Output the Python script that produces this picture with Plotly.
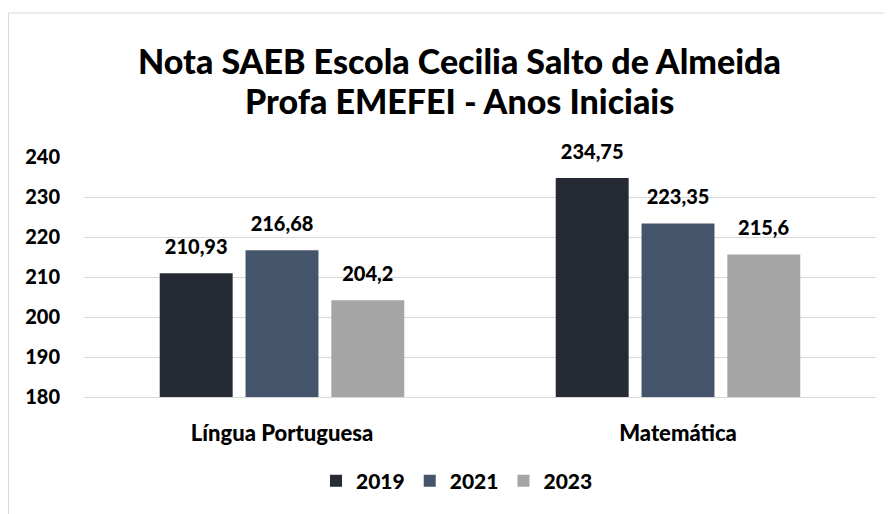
import plotly.graph_objects as go

categories = ["Língua Portuguesa", "Matemática"]
years = ["2019", "2021", "2023"]
values_2019 = [210.93, 234.75]
values_2021 = [216.68, 223.35]
values_2023 = [204.2, 215.6]
y_ticks = [180, 190, 200, 210, 220, 230, 240]

colors = ["#252a35", "#44546a", "#a5a5a5"]
FONT = "Lato"
WT = 900

fig = go.Figure()
for name, vals, col in zip(years, [values_2019, values_2021, values_2023], colors):
    fig.add_trace(go.Bar(
        name=name, x=categories, y=vals,
        marker=dict(color=col, line=dict(width=0)),
        text=["<span style='font-size:20px'>" + f"{v:g}".replace(".", ",") + "</span><br> " for v in vals],
        textposition="outside", cliponaxis=False,
        textfont=dict(family=FONT, size=11, color="#000000", weight=WT),
    ))

# page offset (body margin 8px)
OFF = 8
W, H = 892 - OFF, 514 - OFF
ml, mr, mt, mb = 84 - OFF, 16, 157 - OFF, 117
pw, ph = W - ml - mr, H - mt - mb

def px(x):
    return (x - OFF - ml) / pw

def py(y):
    return (H - mb - (y - OFF)) / ph

fig.update_layout(
    width=W, height=H,
    margin=dict(l=ml, r=mr, t=mt, b=mb, autoexpand=False),
    paper_bgcolor="white", plot_bgcolor="white",
    barmode="group", bargap=0.35, bargroupgap=0.15,
    showlegend=True,
    legend=dict(orientation="h", x=px(457), xanchor="center", y=py(481), yanchor="middle",
                font=dict(family=FONT, size=21, color="#000000", weight=WT),
                itemwidth=30, tracegroupgap=0, traceorder="normal"),
    annotations=[
        dict(text="Nota SAEB Escola Cecilia Salto de Almeida", xref="paper", yref="paper",
             x=px(459), y=py(60), xanchor="center", yanchor="middle", showarrow=False,
             font=dict(family=FONT, size=34, color="#000000", weight=WT)),
        dict(text="Profa EMEFEI - Anos Iniciais", xref="paper", yref="paper",
             x=px(459), y=py(101), xanchor="center", yanchor="middle", showarrow=False,
             font=dict(family=FONT, size=34, color="#000000", weight=WT)),
    ],
    shapes=[
        dict(type="line", xref="paper", yref="paper", x0=px(8.5), x1=px(900), y0=py(13), y1=py(13),
             line=dict(color="#d9d9d9", width=1)),
        dict(type="line", xref="paper", yref="paper", x0=px(8.5), x1=px(8.5), y0=py(13), y1=py(520),
             line=dict(color="#d9d9d9", width=1)),
    ],
)
fig.update_yaxes(range=[180, 240], tickvals=y_ticks, showgrid=True, gridcolor="#d9d9d9",
                 gridwidth=1, zeroline=False, showline=False, automargin=False,
                 ticks="outside", ticklen=19, tickcolor="rgba(0,0,0,0)",
                 tickfont=dict(family=FONT, size=20, color="#000000", weight=WT))
fig.update_xaxes(showline=True, linecolor="#d9d9d9", linewidth=1, automargin=False,
                 ticks="outside", ticklen=17, tickcolor="rgba(0,0,0,0)",
                 tickfont=dict(family=FONT, size=22, color="#000000", weight=WT))

fig.write_html("out.html")
